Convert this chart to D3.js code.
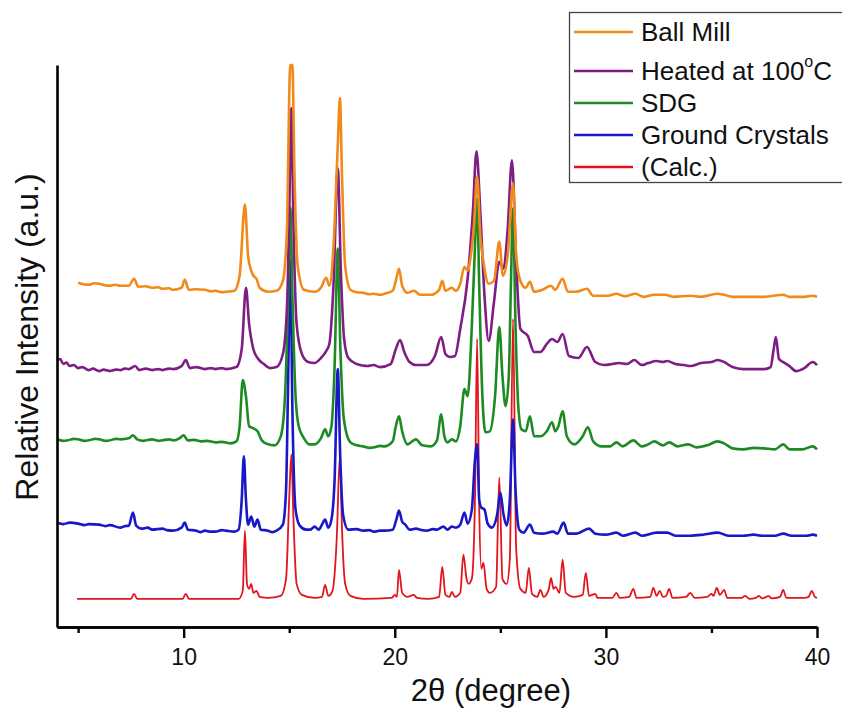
<!DOCTYPE html>
<html>
<head>
<meta charset="utf-8">
<script src="https://cdn.jsdelivr.net/npm/d3@7"></script>
<style>
  html, body { margin: 0; padding: 0; background: #fff; }
  svg { display: block; font-family: Arial, "Liberation Sans", sans-serif; }
</style>
</head>
<body>
<svg id="chart" width="842" height="710"></svg>
<script>
// Powder XRD patterns, stacked with vertical offsets.
// Each pattern: [2θ (degree), intensity above its own offset] in arbitrary units.

const seriesNames = ["Ball Mill", "Heated at 100°C", "SDG", "Ground Crystals", "(Calc.)"];
const seriesColors = ["#F28A1A", "#7E1E84", "#1E8A24", "#1818C8", "#E2141C"];
const seriesOffsets = [3300, 2620, 1800, 970, 280];

const xMajorTicks = [10, 20, 30, 40];
const xMinorTicks = [5, 15, 25, 35];

const calc = [
  [4.95,0],[7.5,0],[7.65,50],[7.8,0],[9.95,0],[10.1,50],[10.25,0],[12.6,0],[12.8,80],[12.9,680],
  [13.0,150],[13.1,100],[13.2,150],[13.3,60],[13.45,80],[13.6,20],[14.0,10],[14.6,30],[14.85,200],
  [15.0,1000],[15.1,1440],[15.2,800],[15.35,150],[15.6,40],[16.2,10],[16.55,20],[16.7,140],[16.85,30],
  [17.05,80],[17.25,600],[17.4,1430],[17.5,700],[17.65,150],[17.9,30],[18.5,0],[19.85,10],[20.0,40],
  [20.1,20],[20.2,290],[20.35,60],[20.6,20],[20.9,40],[21.05,10],[21.6,0],[22.1,20],[22.25,320],
  [22.4,40],[22.6,20],[22.7,70],[22.85,20],[23.1,60],[23.25,440],[23.4,200],[23.5,150],[23.65,200],
  [23.8,1000],[23.9,2590],[24.0,900],[24.1,300],[24.2,360],[24.35,100],[24.5,60],[24.8,120],
  [24.95,1210],[25.1,200],[25.3,150],[25.45,400],[25.6,2790],[25.75,500],[25.95,100],[26.2,60],
  [26.35,310],[26.5,50],[26.75,20],[26.9,90],[27.05,20],[27.3,100],[27.4,210],[27.52,100],[27.62,120],
  [27.8,60],[27.95,390],[28.1,60],[28.5,20],[28.9,40],[29.05,260],[29.2,30],[29.5,50],[29.6,10],
  [30.3,10],[30.5,60],[30.65,10],[31.1,20],[31.3,100],[31.45,10],[32.1,20],[32.25,110],[32.4,30],
  [32.55,80],[32.7,20],[32.85,30],[33.0,100],[33.15,10],[33.8,20],[34.0,60],[34.2,10],[34.8,20],
  [35.0,50],[35.1,30],[35.25,110],[35.4,40],[35.6,90],[35.75,10],[36.4,10],[36.6,30],[36.8,0],
  [37.1,10],[37.25,30],[37.4,5],[37.6,20],[37.7,30],[37.85,5],[38.25,20],[38.4,90],[38.55,10],
  [39.4,10],[39.6,20],[39.75,80],[39.9,20],[40.0,10]
];

const groundCrystals = [
  [4.0,70],[4.3,55],[4.6,70],[5.0,60],[5.3,45],[5.5,55],[6.0,50],[6.3,35],[6.5,45],[7.0,20],[7.2,35],
  [7.4,40],[7.6,170],[7.75,40],[8.0,10],[8.3,20],[8.5,0],[9.0,10],[9.2,-5],[9.5,-10],[9.9,20],[10.05,70],
  [10.2,0],[10.6,-10],[10.8,-25],[11.0,-10],[11.3,-20],[11.5,-20],[11.8,-5],[12.0,-10],[12.4,-20],
  [12.6,0],[12.75,300],[12.85,730],[12.95,300],[13.05,50],[13.2,130],[13.35,30],[13.5,100],[13.65,0],
  [14.0,-10],[14.2,-25],[14.4,-10],[14.7,50],[14.85,400],[14.95,1500],[15.05,2690],[15.15,1200],
  [15.3,200],[15.5,40],[15.8,0],[16.0,0],[16.2,30],[16.4,0],[16.55,50],[16.7,100],[16.85,20],
  [17.0,100],[17.15,500],[17.3,1600],[17.42,700],[17.55,150],[17.8,0],[18.2,5],[18.5,-10],[18.8,-5],
  [19.0,-20],[19.3,-10],[19.5,-10],[19.9,0],[20.1,120],[20.2,190],[20.35,80],[20.5,50],[20.7,0],
  [21.0,10],[21.3,-5],[21.5,-10],[21.8,5],[22.0,0],[22.3,30],[22.5,0],[22.7,30],[22.9,20],[23.1,50],
  [23.3,170],[23.45,60],[23.65,200],[23.8,700],[23.9,850],[24.0,300],[24.1,220],[24.25,200],
  [24.4,60],[24.6,20],[24.85,150],[25.0,370],[25.15,150],[25.3,40],[25.45,300],[25.6,1100],
  [25.72,400],[25.9,0],[26.1,-30],[26.4,50],[26.6,-30],[27.0,-40],[27.5,-20],[27.7,-40],[28.0,70],
  [28.2,-40],[28.6,-40],[29.2,10],[29.5,-40],[30.0,-50],[30.5,-30],[30.8,-60],[31.4,-30],[31.7,-60],
  [32.4,-30],[32.9,-30],[33.3,-60],[34.0,-60],[34.6,-50],[35.3,-30],[35.8,-60],[36.5,-60],[37.0,-50],
  [37.4,-60],[38.0,-60],[38.4,-40],[38.8,-60],[39.5,-60],[39.8,-50],[40.0,-60]
];

const sdg = [
  [4.0,70],[4.3,55],[4.5,60],[4.8,75],[5.0,70],[5.3,55],[5.5,60],[5.8,75],[6.0,70],[6.3,55],[6.5,60],
  [6.8,75],[7.0,70],[7.4,80],[7.6,110],[7.8,70],[8.1,55],[8.5,70],[8.8,55],[9.0,60],[9.3,70],[9.5,60],
  [9.8,80],[10.0,110],[10.2,60],[10.5,65],[10.8,50],[11.1,55],[11.5,40],[11.8,45],[12.2,30],[12.5,50],
  [12.65,200],[12.8,660],[12.95,500],[13.1,200],[13.3,180],[13.5,150],[13.7,60],[14.0,20],[14.3,10],
  [14.6,100],[14.8,500],[14.95,1500],[15.05,2380],[15.15,1500],[15.3,500],[15.45,200],[15.7,80],
  [15.95,20],[16.2,20],[16.5,80],[16.7,170],[16.85,100],[17.0,200],[17.15,800],[17.3,1970],
  [17.42,1000],[17.6,250],[17.9,40],[18.2,10],[18.5,0],[18.8,-15],[19.0,-10],[19.3,5],[19.5,0],
  [19.9,50],[20.05,200],[20.2,300],[20.35,150],[20.6,20],[21.0,70],[21.3,10],[21.7,0],[22.0,60],
  [22.2,320],[22.35,100],[22.5,40],[22.7,70],[22.9,50],[23.1,200],[23.3,570],[23.45,500],[23.65,1200],
  [23.8,2000],[23.9,2470],[24.0,1600],[24.15,500],[24.3,140],[24.5,150],[24.75,500],[24.95,1190],
  [25.1,700],[25.25,400],[25.4,700],[25.5,1600],[25.6,2370],[25.72,1200],[25.85,400],[26.0,170],
  [26.2,150],[26.4,300],[26.6,100],[26.9,100],[27.2,150],[27.45,240],[27.6,150],[27.75,200],
  [27.95,350],[28.15,100],[28.5,20],[28.9,100],[29.15,190],[29.4,50],[29.8,0],[30.2,0],[30.5,40],
  [30.8,0],[31.3,60],[31.7,0],[32.0,20],[32.3,50],[32.7,10],[33.0,40],[33.4,0],[33.9,20],[34.3,-10],
  [34.8,10],[35.3,50],[35.6,30],[36.0,-20],[36.5,-30],[37.0,-15],[37.5,-20],[38.0,-30],[38.4,20],
  [38.7,-30],[39.3,-30],[39.8,0],[40.0,-30]
];

const heated = [
  [4.0,40],[4.15,50],[4.3,0],[4.45,15],[4.6,-20],[4.8,-10],[5.0,-40],[5.2,-30],[5.5,-60],[5.7,-45],
  [6.0,-70],[6.2,-55],[6.5,-70],[6.8,-55],[7.0,-60],[7.2,-45],[7.4,-50],[7.7,-20],[7.9,-60],[8.2,-45],
  [8.5,-60],[8.8,-50],[9.0,-60],[9.3,-45],[9.5,-50],[9.9,-20],[10.1,40],[10.3,-40],[10.6,-30],
  [11.0,-50],[11.3,-40],[11.5,-50],[11.8,-40],[12.0,-50],[12.5,-30],[12.75,150],[12.95,760],[13.1,400],
  [13.3,150],[13.5,60],[13.8,0],[14.1,-40],[14.4,-30],[14.7,100],[14.9,600],[15.0,1500],[15.1,2550],
  [15.2,1400],[15.35,400],[15.6,100],[15.9,20],[16.2,10],[16.5,60],[16.75,130],[16.9,200],[17.1,800],
  [17.3,1950],[17.45,900],[17.6,250],[17.8,60],[18.2,0],[18.5,-15],[18.7,-20],[19.0,-10],[19.3,-30],
  [19.8,0],[20.05,150],[20.25,240],[20.45,120],[20.7,20],[21.0,-10],[21.5,-10],[21.9,80],[22.2,270],
  [22.4,100],[22.6,70],[22.85,80],[23.1,350],[23.45,850],[23.7,1520],[23.87,2120],[24.05,1520],
  [24.25,680],[24.45,230],[24.7,620],[24.95,1020],[25.15,950],[25.35,1350],[25.55,2030],[25.75,1020],
  [25.95,350],[26.3,280],[26.6,120],[26.9,120],[27.2,200],[27.45,250],[27.7,220],[27.95,300],
  [28.25,80],[28.7,60],[29.1,170],[29.5,20],[29.9,-10],[30.3,0],[30.6,10],[31.0,0],[31.35,40],
  [31.7,-10],[32.0,10],[32.4,30],[32.7,20],[32.9,30],[33.3,0],[33.7,-10],[34.0,-20],[34.5,10],
  [35.0,20],[35.3,40],[35.6,20],[36.0,-30],[36.5,-50],[37.0,-50],[37.5,-50],[37.8,-30],[37.95,150],
  [38.05,270],[38.2,50],[38.4,20],[38.7,-20],[39.0,-70],[39.4,-40],[39.8,20],[40.0,-10]
];

const ballMill = [
  [5.0,130],[5.25,115],[5.5,110],[5.75,125],[6.0,120],[6.25,105],[6.5,100],[6.75,110],[7.0,100],
  [7.4,100],[7.65,170],[7.85,90],[8.2,95],[8.5,80],[8.8,85],[9.0,70],[9.3,75],[9.5,60],[9.9,80],
  [10.05,160],[10.25,60],[10.6,65],[11.0,60],[11.3,45],[11.5,50],[11.8,35],[12.0,40],[12.4,50],
  [12.65,200],[12.9,910],[13.05,400],[13.2,250],[13.3,200],[13.45,170],[13.6,80],[14.0,40],[14.4,50],
  [14.7,150],[14.9,700],[15.0,2000],[15.05,2300],[15.15,2300],[15.25,1200],[15.4,300],[15.7,60],
  [16.2,40],[16.5,80],[16.75,180],[16.9,100],[17.1,500],[17.3,1500],[17.4,1970],[17.5,1200],
  [17.65,300],[17.9,60],[18.2,35],[18.5,30],[18.8,15],[19.0,20],[19.3,10],[19.5,20],[19.9,50],
  [20.05,150],[20.2,270],[20.35,100],[20.6,30],[20.9,50],[21.2,10],[21.7,10],[22.1,60],[22.25,150],
  [22.4,50],[22.7,80],[22.9,50],[23.1,120],[23.3,290],[23.45,250],[23.6,400],[23.75,700],[23.9,1190],
  [24.05,600],[24.2,340],[24.45,120],[24.7,150],[24.95,540],[25.12,200],[25.35,400],[25.6,1120],
  [25.75,400],[25.95,150],[26.2,80],[26.4,140],[26.6,40],[27.0,60],[27.4,100],[27.6,60],[27.95,170],
  [28.2,40],[28.6,40],[29.1,70],[29.4,0],[29.8,0],[30.1,0],[30.5,20],[30.9,-5],[31.4,20],[31.8,-10],
  [32.3,10],[32.8,10],[33.2,-10],[34.0,0],[34.5,-10],[35.3,20],[35.6,10],[36.0,-10],[37.0,-10],
  [37.5,-10],[38.4,10],[38.7,-10],[39.4,-10],[39.8,0],[40.0,-10]
];

const patterns = [ballMill, heated, sdg, groundCrystals, calc];

const svg = d3.select("#chart");
svg.append("rect").attr("width", 842).attr("height", 710).attr("fill", "#fff");

const x = d3.scaleLinear().domain([4, 40]).range([57, 817]);
const y = d3.scaleLinear().domain([0, 5600]).range([627, 65]);

// Patterns: draw the calculated one first so the measured traces sit above it
const line = d3.line()
  .x(d => x(d[0]))
  .y(d => y(d[1]))
  .curve(d3.curveMonotoneX);

const order = [4, 3, 2, 1, 0];
const plot = svg.append("g");
order.forEach(i => {
  plot.append("path")
    .datum(patterns[i].map(p => [p[0], p[1] + seriesOffsets[i]]))
    .attr("fill", "none")
    .attr("stroke", seriesColors[i])
    .attr("stroke-width", i === 4 ? 1.8 : 2.6)
    .attr("stroke-linejoin", "round")
    .attr("d", line);
});

// Axes
const axisFont = "23px";
const gxMinor = svg.append("g").attr("transform", `translate(0,${y(0)})`)
  .call(d3.axisBottom(x).tickValues(xMinorTicks).tickSize(6).tickSizeOuter(0).tickFormat(""));
const gxMajor = svg.append("g").attr("transform", `translate(0,${y(0)})`)
  .call(d3.axisBottom(x).tickValues(xMajorTicks).tickSize(11).tickSizeOuter(0).tickPadding(11));
[gxMinor, gxMajor].forEach(g => {
  g.select(".domain").attr("stroke", "#000").attr("stroke-width", 2.6);
  g.selectAll(".tick line").attr("stroke", "#000").attr("stroke-width", 2.4);
  g.selectAll(".tick text").attr("fill", "#111").style("font-size", axisFont)
    .style("font-family", "Arial, 'Liberation Sans', sans-serif");
});

const gy = svg.append("g").attr("transform", `translate(${x(4)},0)`)
  .call(d3.axisLeft(y).tickValues([]).tickSizeOuter(0));
gy.select(".domain").attr("stroke", "#000").attr("stroke-width", 2.6);

// Axis titles
svg.append("text")
  .attr("x", 491).attr("y", 690)
  .attr("text-anchor", "middle").attr("dominant-baseline", "central")
  .style("font-size", "31px").attr("fill", "#111")
  .text("2θ (degree)");

svg.append("text")
  .attr("transform", "translate(27,337) rotate(-90)")
  .attr("text-anchor", "middle").attr("dominant-baseline", "central")
  .style("font-size", "32px").attr("fill", "#111")
  .text("Relative Intensity (a.u.)");

// Legend
const legend = svg.append("g");
legend.append("rect")
  .attr("x", 569.5).attr("y", 12.5).attr("width", 300).attr("height", 170)
  .attr("fill", "#fff").attr("stroke", "#444").attr("stroke-width", 1.3);
const rowY = i => (i === 0 ? 32 : 71 + (i - 1) * 32);
seriesNames.forEach((name, i) => {
  legend.append("line")
    .attr("x1", 574).attr("x2", 633).attr("y1", rowY(i)).attr("y2", rowY(i))
    .attr("stroke", seriesColors[i]).attr("stroke-width", 2.4);
  const t = legend.append("text")
    .attr("x", 641).attr("y", rowY(i))
    .attr("dominant-baseline", "central")
    .style("font-size", "26px").attr("fill", "#111");
  if (name.includes("°")) {
    const [pre, post] = name.split("°");
    t.append("tspan").text(pre);
    t.append("tspan").attr("dy", -10).style("font-size", "16px").text("o");
    t.append("tspan").attr("dy", 10).text(post);
  } else {
    t.text(name);
  }
});
</script>
</body>
</html>
